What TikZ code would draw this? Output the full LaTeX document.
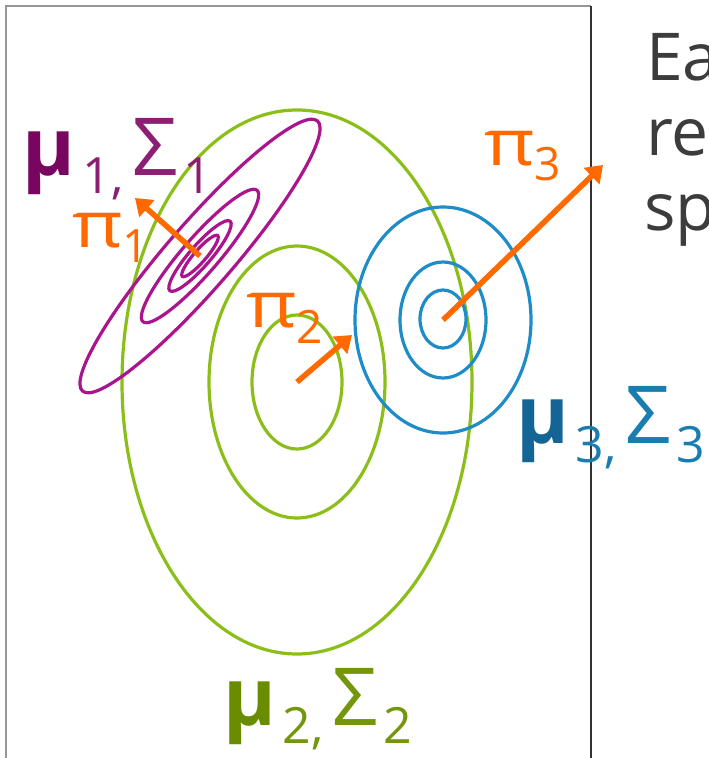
\documentclass[tikz,border=0pt]{standalone}
\usepackage{fontspec}
\setmainfont{Open Sans}
\usetikzlibrary{arrows.meta}
\definecolor{gmmgreen}{RGB}{140,190,25}
\definecolor{gmmblue}{RGB}{30,140,200}
\definecolor{gmmmag}{RGB}{170,20,140}
\definecolor{gmmorange}{RGB}{255,105,0}
\definecolor{muone}{RGB}{120,5,95}
\definecolor{sigone}{RGB}{140,30,115}
\definecolor{mutwo}{RGB}{105,140,0}
\definecolor{sigtwo}{RGB}{115,150,10}
\definecolor{muthree}{RGB}{20,100,150}
\definecolor{sigthree}{RGB}{25,125,175}
\definecolor{txtgray}{RGB}{60,60,60}
\newcommand{\bigf}{\fontsize{80}{80}\selectfont}
\newcommand{\subf}{\fontsize{50}{50}\selectfont}
\newcommand{\pif}{\fontsize{64}{64}\selectfont}
\newcommand{\pisubf}{\fontsize{46}{46}\selectfont}
\newcommand{\wpi}{\scalebox{1.22}[1]{π}}
\begin{document}
\begin{tikzpicture}[x=1pt,y=-1pt,
  gline/.style={draw=gmmgreen, line width=3.2pt},
  bline/.style={draw=gmmblue, line width=3.2pt},
  mline/.style={draw=gmmmag, line width=3.2pt},
  weight/.style={draw=gmmorange, line width=5.5pt, -{Triangle[width=22pt,length=16pt]}},
  lbl/.style={anchor=base west, inner sep=0pt, outer sep=0pt},
  side/.style={anchor=base west, inner sep=0pt, text=txtgray, font=\fontsize{66}{66}\selectfont}]
\useasboundingbox (0,0) rectangle (709,758);
\clip (0,0) rectangle (709,758);
% frame
\draw[line width=2pt, draw={rgb,255:red,150;green,150;blue,150}] (6,770) -- (6,6) -- (591,6);
\draw[line width=2pt, draw={rgb,255:red,50;green,50;blue,50}] (591,6) -- (591,770);
% centres
\coordinate (c1) at (200,256);
\coordinate (c2) at (297,382);
\coordinate (c3) at (443,320);
\coordinate (t1) at (135,198);
\coordinate (t2) at (352,335);
\coordinate (t3) at (603,165);
% green component
\draw[gline] (c2) ellipse [x radius=175, y radius=272];
\draw[gline] (c2) ellipse [x radius=88, y radius=136];
\draw[gline] (c2) ellipse [x radius=45, y radius=67];
% blue component
\draw[bline] (c3) ellipse [x radius=88, y radius=113];
\draw[bline] (c3) ellipse [x radius=43, y radius=58];
\draw[bline] (443,319) ellipse [x radius=23, y radius=29];
% magenta component
\begin{scope}[shift={(c1)}, rotate=49]
\draw[mline] (0,0) ellipse [x radius=179, y radius=33];
\draw[mline] (0,0) ellipse [x radius=87, y radius=18];
\draw[mline] (0,0) ellipse [x radius=46, y radius=10.5];
\draw[mline] (0,0) ellipse [x radius=27, y radius=6];
\end{scope}
% weights
\draw[weight] (c1) -- (t1);
\draw[weight] (c2) -- (t2);
\draw[weight] (c3) -- (t3);
% labels
\node[lbl] (lab1) at (23,175) {{\bigf\bfseries\color{muone}μ}\hspace{7pt}\raisebox{-18pt}{\subf\color{sigone}1,}\hspace{9pt}{\bigf\color{sigone}Σ}\hspace{5pt}\raisebox{-18pt}{\subf\color{sigone}1}};
\node[lbl] (lab2) at (223,725) {{\bigf\bfseries\color{mutwo}μ}\hspace{7pt}\raisebox{-18pt}{\subf\color{sigtwo}2,}\hspace{9pt}{\bigf\color{sigtwo}Σ}\hspace{5pt}\raisebox{-18pt}{\subf\color{sigtwo}2}};
\node[lbl] (lab3) at (516,443) {{\bigf\bfseries\color{muthree}μ}\hspace{7pt}\raisebox{-19pt}{\subf\color{sigthree}3,}\hspace{9pt}{\bigf\color{sigthree}Σ}\hspace{5pt}\raisebox{-19pt}{\subf\color{sigthree}3}};
\node[lbl, text=gmmorange] (pi1) at (72,247) {{\pif\wpi}\raisebox{-15pt}{\pisubf 1}};
\node[lbl, text=gmmorange] (pi2) at (246,327) {{\pif\wpi}\raisebox{-16pt}{\pisubf 2}};
\node[lbl, text=gmmorange] (pi3) at (484,165) {{\pif\wpi}\raisebox{-15pt}{\pisubf 3}};
% side text
\node[side] (s1) at (646,80) {Ea};
\node[side] (s2) at (646,155) {re};
\node[side] (s3) at (644,230) {sp};
\end{tikzpicture}
\end{document}
